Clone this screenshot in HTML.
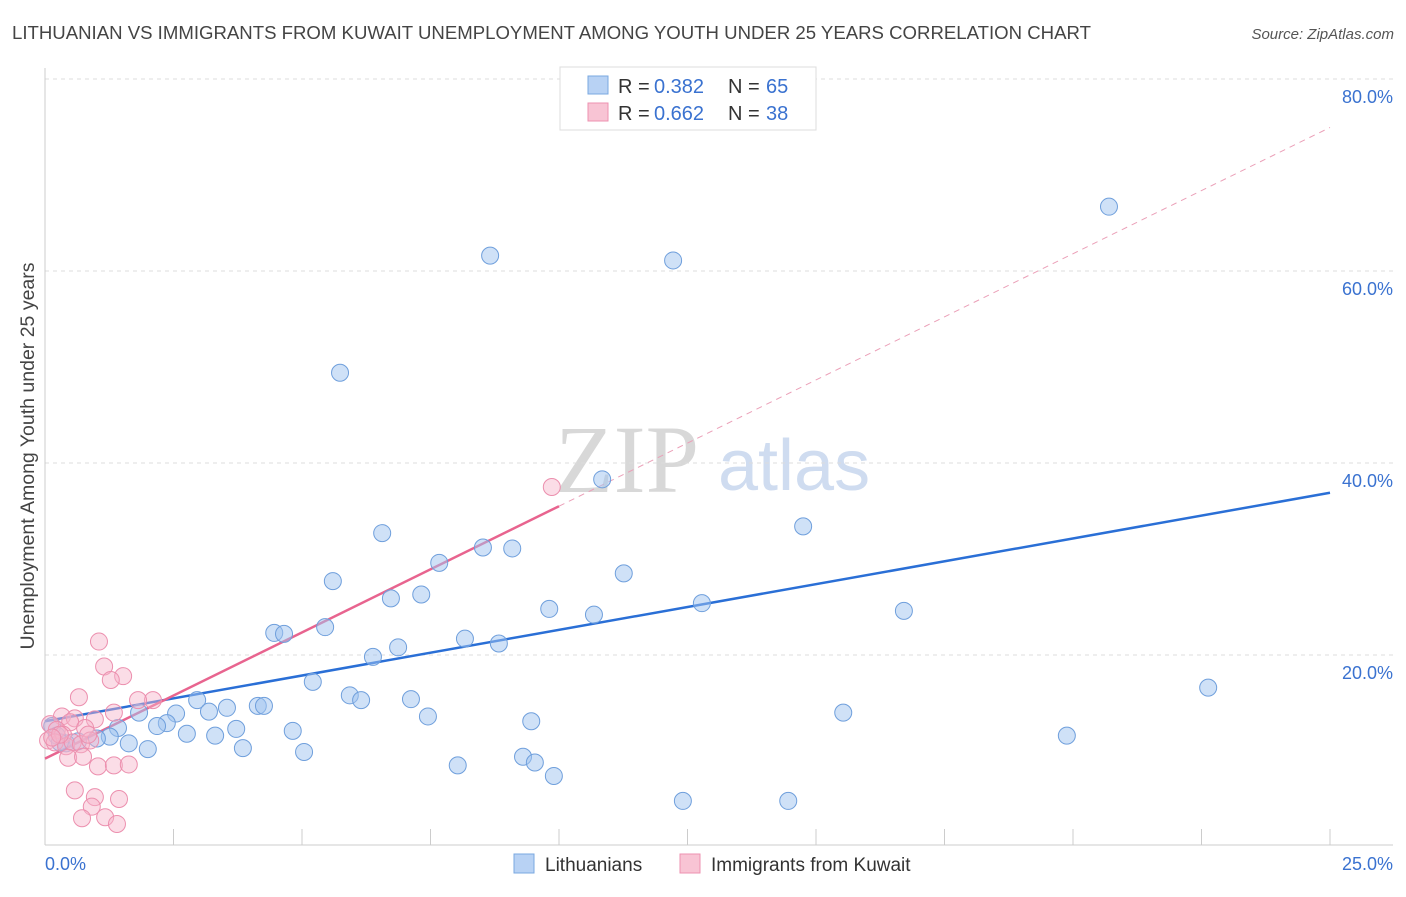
<!DOCTYPE html>
<html><head><meta charset="utf-8"><style>
body{margin:0;background:#fff;font-family:"Liberation Sans",sans-serif;}
</style></head><body>
<svg width="1406" height="892" xmlns="http://www.w3.org/2000/svg" font-family="Liberation Sans, sans-serif">
<text x="12" y="39" font-size="18.6" fill="#444">LITHUANIAN VS IMMIGRANTS FROM KUWAIT UNEMPLOYMENT AMONG YOUTH UNDER 25 YEARS CORRELATION CHART</text>
<text x="1394" y="39" font-size="15" fill="#555" text-anchor="end" font-style="italic">Source: ZipAtlas.com</text>
<g>
<text x="555" y="492" font-size="96" font-family="Liberation Serif, serif" fill="#d8d8d8">ZIP</text>
<text x="718" y="490" font-size="72" fill="#cfdcf0">atlas</text>
</g>
<g id="grid"></g>
<g id="axes"></g>
<g id="lines"></g>
<g id="pts"></g>
<text transform="translate(34,456) rotate(-90)" font-size="19.5" fill="#444" text-anchor="middle">Unemployment Among Youth under 25 years</text>
<g>
<rect x="560" y="67" width="256" height="63" fill="#fff" stroke="#ddd"/>
<rect x="588" y="76" width="20" height="18" fill="#b8d2f4" stroke="#7aa8e0"/>
<text x="618" y="93" font-size="20" fill="#333">R =</text>
<text x="654" y="93" font-size="20" fill="#3a72d0">0.382</text>
<text x="728" y="93" font-size="20" fill="#333">N =</text>
<text x="766" y="93" font-size="20" fill="#3a72d0">65</text>
<rect x="588" y="103" width="20" height="18" fill="#f8c4d4" stroke="#ee92b0"/>
<text x="618" y="120" font-size="20" fill="#333">R =</text>
<text x="654" y="120" font-size="20" fill="#3a72d0">0.662</text>
<text x="728" y="120" font-size="20" fill="#333">N =</text>
<text x="766" y="120" font-size="20" fill="#3a72d0">38</text>
</g>
<g>
<rect x="514" y="854" width="20" height="19" fill="#b8d2f4" stroke="#7aa8e0"/>
<text x="545" y="871" font-size="19" fill="#333">Lithuanians</text>
<rect x="680" y="854" width="20" height="19" fill="#f8c4d4" stroke="#ee92b0"/>
<text x="711" y="871" font-size="19" fill="#333">Immigrants from Kuwait</text>
</g>
<text x="45" y="870" font-size="18" fill="#3a72d0">0.0%</text>
<text x="1393" y="870" font-size="18" fill="#3a72d0" text-anchor="end">25.0%</text>
</svg>
<script>
const yTicks=[20,40,60,80];
const yTickLabels=["20.0%","40.0%","60.0%","80.0%"];
const xTicks=[0,2.5,5,7.5,10,12.5,15,17.5,20,22.5,25];
const blueX=[8.66,12.22,20.70,5.74,10.84,6.56,14.75,8.52,9.09,7.67,5.60,11.26,6.73,7.32,9.81,10.68,12.78,16.71,4.46,4.65,5.45,8.17,8.83,6.87,6.38,5.21,5.93,6.15,7.12,22.63,2.96,3.54,2.55,3.19,1.83,4.14,4.26,2.37,2.18,7.45,15.53,9.46,4.82,3.72,2.76,3.31,1.42,1.26,1.01,0.64,0.41,1.63,2.00,3.85,5.04,0.14,0.23,19.88,9.30,9.53,8.03,9.90,12.41,14.46,0.29];
const blueY=[61.6,61.1,66.7,49.4,38.3,32.7,33.4,31.2,31.1,29.6,27.7,28.5,25.9,26.3,24.8,24.2,25.4,24.6,22.3,22.2,22.9,21.7,21.2,20.8,19.8,17.2,15.8,15.3,15.4,16.6,15.3,14.5,13.9,14.1,14.0,14.7,14.7,12.9,12.6,13.6,14.0,13.1,12.1,12.3,11.8,11.6,12.4,11.5,11.3,11.0,10.8,10.8,10.2,10.3,9.9,12.6,11.6,11.6,9.4,8.8,8.5,7.4,4.8,4.8,10.9];
const pinkX=[9.86,1.05,1.15,1.52,1.28,0.66,2.10,1.81,1.34,0.33,0.58,0.97,0.10,0.49,0.23,0.78,0.35,0.06,0.19,0.41,0.54,0.70,0.88,0.45,0.74,1.03,1.34,1.63,0.58,0.97,1.44,0.91,0.72,1.17,1.40,0.29,0.14,0.84];
const pinkY=[37.5,21.4,18.8,17.8,17.4,15.6,15.3,15.3,14.0,13.6,13.4,13.3,12.8,13.0,12.2,12.4,11.7,11.1,10.9,10.5,10.9,10.7,11.1,9.3,9.4,8.4,8.5,8.6,5.9,5.2,5.0,4.2,3.0,3.1,2.4,11.7,11.4,11.7];
const blueTrend=[13.1,36.9];
const pinkTrend=[9.2,2.63];
const pinkSolidEnd=10.0;
const NS="http://www.w3.org/2000/svg";
const sx=v=>45+v*51.4, sy=v=>847-v*9.6;
function mk(t,a,p){const e=document.createElementNS(NS,t);for(const k in a)e.setAttribute(k,a[k]);p.appendChild(e);return e;}
const grid=document.getElementById('grid');
yTicks.forEach((t,i)=>{
 const l=mk('line',{x1:45,x2:1393,y1:sy(t),y2:sy(t),stroke:'#ddd','stroke-dasharray':'4,4'},grid);
 
 
 const tx=mk('text',{x:1393,y:sy(t)+24,'font-size':18,fill:'#3a72d0','text-anchor':'end'},grid);
 tx.textContent=yTickLabels[i];
 
 
});
const ax=document.getElementById('axes');
mk('line',{x1:45,x2:45,y1:68,y2:845,stroke:'#ccc'},ax);
mk('line',{x1:45,x2:1393,y1:845,y2:845,stroke:'#ccc'},ax);
xTicks.forEach(t=>{const l=mk('line',{x1:sx(t),x2:sx(t),y1:829,y2:845,stroke:'#ccc'},ax);
 
 });
const ln=document.getElementById('lines');
let b=mk('line',{x1:sx(0),y1:sy(blueTrend[0]),x2:sx(25),y2:sy(blueTrend[1]),stroke:'#2a6fd6','stroke-width':2.5},ln);


const pf=x=>pinkTrend[0]+pinkTrend[1]*x;
let p=mk('line',{x1:sx(0),y1:sy(pf(0)),x2:sx(pinkSolidEnd),y2:sy(pf(pinkSolidEnd)),stroke:'#e8648f','stroke-width':2.5},ln);


let pd=mk('line',{x1:sx(pinkSolidEnd),y1:sy(pf(pinkSolidEnd)),x2:sx(25),y2:sy(pf(25)),stroke:'#eba0b8','stroke-width':1,'stroke-dasharray':'6,5'},ln);


const pts=document.getElementById('pts');
blueX.forEach((x,i)=>{const c=mk('circle',{cx:sx(x),cy:sy(blueY[i]),r:8.5,fill:'rgba(160,196,240,0.5)',stroke:'#6f9fdc','stroke-width':1},pts);
 
 });
pinkX.forEach((x,i)=>{const c=mk('circle',{cx:sx(x),cy:sy(pinkY[i]),r:8.5,fill:'rgba(246,180,202,0.45)',stroke:'#ec8fae','stroke-width':1},pts);
 
 });
</script>
</body></html>
